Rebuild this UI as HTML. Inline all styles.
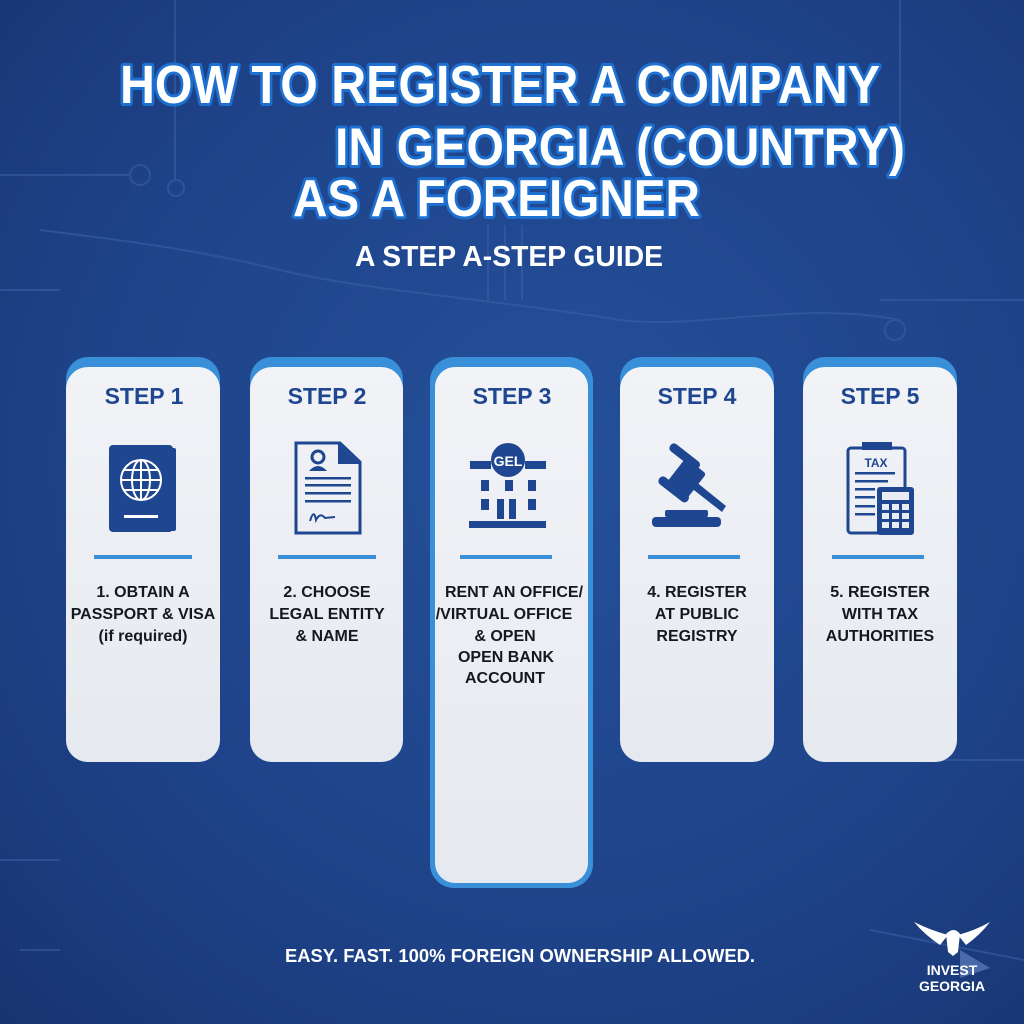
<!DOCTYPE html>
<html><head><meta charset="utf-8"><style>
html,body{margin:0;padding:0;width:1024px;height:1024px;overflow:hidden}
svg{display:block}
text{font-family:"Liberation Sans",sans-serif;font-weight:bold}
</style></head><body>
<svg width="1024" height="1024" viewBox="0 0 1024 1024" xmlns="http://www.w3.org/2000/svg">
<defs>
<radialGradient id="bg" cx="0.55" cy="0.45" r="0.8">
<stop offset="0" stop-color="#24509a"/>
<stop offset="0.6" stop-color="#1e4288"/>
<stop offset="1" stop-color="#17336e"/>
</radialGradient>
<linearGradient id="card" x1="0" y1="0" x2="0" y2="1">
<stop offset="0" stop-color="#f1f3f7"/><stop offset="1" stop-color="#e6e9ef"/>
</linearGradient>
</defs>
<rect width="1024" height="1024" fill="url(#bg)"/>
<g stroke="#3a62a8" stroke-width="2" fill="none" opacity="0.55">
<path d="M0 175 H130"/><circle cx="140" cy="175" r="10"/>
<path d="M175 0 V180"/><circle cx="176" cy="188" r="8"/>
<path d="M488 225 V300 M505 225 V300 M522 225 V300"/>
<path d="M900 0 V160 M880 300 H1024 M0 290 H60 M0 860 H60 M20 950 H60"/>
<circle cx="895" cy="330" r="10"/>
<path d="M40 230 C120 240 200 250 280 270 C360 290 500 300 620 320 C700 330 800 300 900 320"/>
<path d="M870 930 L1024 960 M900 760 H1024"/>
</g>
<g fill="#fff" stroke="#1d6fd0" stroke-width="6" paint-order="stroke" stroke-linejoin="round">
<text x="120" y="103" font-size="54" textLength="760" lengthAdjust="spacingAndGlyphs">HOW TO REGISTER A COMPANY</text>
<text x="335" y="165" font-size="53" textLength="570" lengthAdjust="spacingAndGlyphs">IN GEORGIA (COUNTRY)</text>
<text x="293" y="216" font-size="52" textLength="407" lengthAdjust="spacingAndGlyphs">AS A FOREIGNER</text>
</g>
<text x="355" y="266" font-size="29" fill="#fff" textLength="308" lengthAdjust="spacingAndGlyphs">A STEP A-STEP GUIDE</text>

<g>
<rect x="66" y="357" width="154" height="405" rx="22" fill="#3a90d8"/>
<rect x="66" y="367" width="154" height="395" rx="22" fill="url(#card)"/>
<rect x="250" y="357" width="153" height="405" rx="22" fill="#3a90d8"/>
<rect x="250" y="367" width="153" height="395" rx="22" fill="url(#card)"/>
<rect x="430" y="357" width="163" height="531" rx="24" fill="#3a90d8"/>
<rect x="435" y="367" width="153" height="516" rx="20" fill="url(#card)"/>
<rect x="620" y="357" width="154" height="405" rx="22" fill="#3a90d8"/>
<rect x="620" y="367" width="154" height="395" rx="22" fill="url(#card)"/>
<rect x="803" y="357" width="154" height="405" rx="22" fill="#3a90d8"/>
<rect x="803" y="367" width="154" height="395" rx="22" fill="url(#card)"/>
</g>
<g fill="#1f4690" font-size="23" text-anchor="middle">
<text x="144" y="404">STEP 1</text>
<text x="327" y="404">STEP 2</text>
<text x="512" y="404">STEP 3</text>
<text x="697" y="404">STEP 4</text>
<text x="880" y="404">STEP 5</text>
</g>
<g fill="#3a90d8">
<rect x="94" y="555" width="98" height="4"/>
<rect x="278" y="555" width="98" height="4"/>
<rect x="460" y="555" width="92" height="4"/>
<rect x="648" y="555" width="92" height="4"/>
<rect x="832" y="555" width="92" height="4"/>
</g>
<g fill="#15191f" font-size="16" text-anchor="middle">
<text x="143" y="597">1. OBTAIN A</text>
<text x="143" y="619">PASSPORT &amp; VISA</text>
<text x="143" y="641" font-weight="normal">(if required)</text>
<text x="327" y="597">2. CHOOSE</text>
<text x="327" y="619">LEGAL ENTITY</text>
<text x="327" y="641">&amp; NAME</text>
<text x="514" y="597">RENT AN OFFICE/</text>
<text x="504" y="619">/VIRTUAL OFFICE</text>
<text x="505" y="641">&amp; OPEN</text>
<text x="506" y="662">OPEN BANK</text>
<text x="505" y="683">ACCOUNT</text>
<text x="697" y="597">4. REGISTER</text>
<text x="697" y="619">AT PUBLIC</text>
<text x="697" y="641">REGISTRY</text>
<text x="880" y="597">5. REGISTER</text>
<text x="880" y="619">WITH TAX</text>
<text x="880" y="641">AUTHORITIES</text>
</g>

<rect x="169" y="448" width="7" height="83" rx="2" fill="#1f4690"/>
<rect x="109" y="445" width="64" height="87" rx="4" fill="#1f4690"/>
<g stroke="#fff" stroke-width="2" fill="none">
<circle cx="141" cy="480" r="20"/>
<ellipse cx="141" cy="480" rx="9" ry="20"/>
<path d="M121 480 H161 M124 470 H158 M124 490 H158 M141 460 V500"/>
</g>
<rect x="124" y="515" width="34" height="3" fill="#fff"/>
<path d="M296 443 H340 L360 462 V533 H296 Z" fill="none" stroke="#1f4690" stroke-width="3"/>
<path d="M338 443 V464 H360 Z" fill="#1f4690"/>
<circle cx="318" cy="457" r="6" fill="none" stroke="#1f4690" stroke-width="3"/>
<path d="M309 471 Q318 461 327 471 Z" fill="#1f4690"/>
<g fill="#1f4690"><rect x="305" y="477" width="46" height="2.5"/><rect x="305" y="484" width="46" height="2.5"/><rect x="305" y="492" width="46" height="2.5"/><rect x="305" y="500" width="46" height="2.5"/></g>
<path d="M310 521 Q314 508 316 520 Q320 512 325 518 L335 517" fill="none" stroke="#1f4690" stroke-width="2"/>
<g fill="#1f4690">
<circle cx="508" cy="460" r="17"/>
<rect x="470" y="461" width="21" height="8"/><rect x="525" y="461" width="21" height="8"/>
<rect x="481" y="480" width="8" height="11"/><rect x="505" y="480" width="8" height="11"/><rect x="528" y="480" width="8" height="11"/>
<rect x="481" y="499" width="8" height="11"/><rect x="497" y="499" width="7" height="20"/><rect x="509" y="499" width="7" height="20"/><rect x="528" y="499" width="8" height="11"/>
<rect x="469" y="521" width="77" height="7"/>
</g>
<text x="508" y="466" font-size="14" fill="#fff" text-anchor="middle">GEL</text>
<g fill="#1f4690">
<rect x="672" y="462" width="26" height="36" rx="3" transform="rotate(38 685 480)"/>
<rect x="667" y="452" width="36" height="9" rx="4" transform="rotate(38 685 456)"/>
<rect x="656" y="485" width="36" height="9" rx="4" transform="rotate(38 674 489)"/>
<path d="M687 485 L692 479 L723 504 L719 510 Z" transform="translate(3 2)"/>
<rect x="665" y="510" width="43" height="7" rx="2"/>
<rect x="652" y="517" width="69" height="10" rx="4"/>
</g>
<rect x="848" y="448" width="57" height="85" rx="3" fill="none" stroke="#1f4690" stroke-width="3"/>
<rect x="862" y="442" width="30" height="8" fill="#1f4690"/>
<text x="876" y="467" font-size="12" fill="#1f4690" text-anchor="middle">TAX</text>
<g fill="#1f4690"><rect x="855" y="472" width="40" height="2.5"/><rect x="855" y="480" width="33" height="2.5"/><rect x="855" y="488" width="20" height="2.5"/><rect x="855" y="496" width="20" height="2.5"/><rect x="855" y="505" width="20" height="2.5"/><rect x="855" y="513" width="20" height="2.5"/></g>
<rect x="877" y="487" width="37" height="48" rx="3" fill="#1f4690"/>
<rect x="882" y="492" width="27" height="8" fill="#e9ecf2"/>
<g fill="#e9ecf2">
<rect x="882" y="504" width="7" height="6"/><rect x="892" y="504" width="7" height="6"/><rect x="902" y="504" width="7" height="6"/>
<rect x="882" y="513" width="7" height="6"/><rect x="892" y="513" width="7" height="6"/><rect x="902" y="513" width="7" height="6"/>
<rect x="882" y="522" width="7" height="6"/><rect x="892" y="522" width="7" height="6"/><rect x="902" y="522" width="7" height="6"/>
</g>

<text x="285" y="962" font-size="18" fill="#fff" textLength="470" lengthAdjust="spacingAndGlyphs">EASY. FAST. 100% FOREIGN OWNERSHIP ALLOWED.</text>
<path d="M960 950 L990 968 L960 978 Z" fill="#5b7fbf" opacity="0.7"/>
<g fill="#fff">
<path d="M948 935 Q930 930 914 922 Q925 935 940 945 Z"/>
<path d="M958 935 Q976 930 990 922 Q980 935 966 945 Z"/>
<path d="M946 934 Q954 926 960 934 L958 952 L953 956 L948 952 Z"/>
</g>
<text x="952" y="975" font-size="14" fill="#fff" text-anchor="middle">INVEST</text>
<text x="952" y="991" font-size="14" fill="#fff" text-anchor="middle">GEORGIA</text>
</svg>
</body></html>
